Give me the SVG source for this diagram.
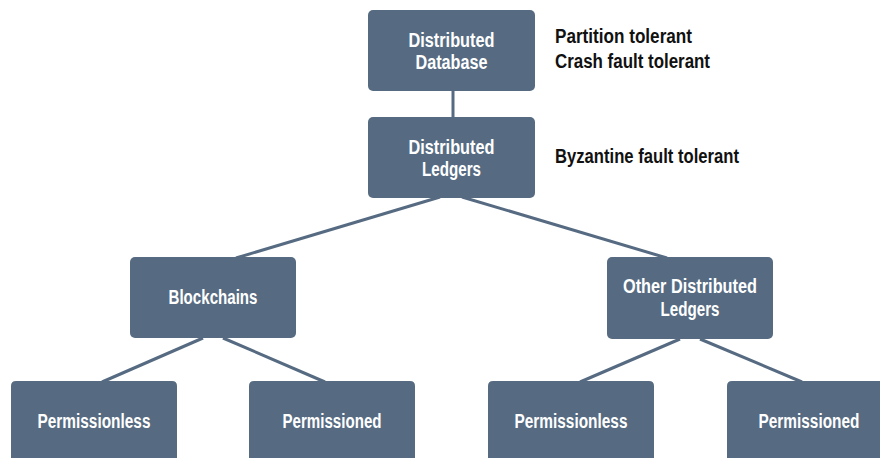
<svg xmlns="http://www.w3.org/2000/svg" width="880" height="458" viewBox="0 0 880 458">
<style>
.box{fill:#566b82;}
.t{font-family:"Liberation Sans",Arial,sans-serif;font-weight:bold;font-size:20px;fill:#ffffff;text-anchor:middle;dominant-baseline:central;}
.n{font-family:"Liberation Sans",Arial,sans-serif;font-weight:bold;font-size:20px;fill:#111111;dominant-baseline:central;}
.c{stroke:#566b82;stroke-width:3;fill:none;}
</style>
<rect width="880" height="458" fill="#ffffff"/>
<g id="connectors">
<line class="c" x1="453" y1="91" x2="453" y2="117"/>
<line class="c" x1="440" y1="197" x2="236" y2="258"/>
<line class="c" x1="462" y1="197" x2="667" y2="258"/>
<line class="c" x1="203" y1="338" x2="102" y2="382"/>
<line class="c" x1="223" y1="338" x2="325" y2="382"/>
<line class="c" x1="680" y1="339" x2="580" y2="382"/>
<line class="c" x1="700" y1="339" x2="802" y2="382"/>
</g>
<g id="db">
<rect class="box" x="368" y="10" width="167" height="81" rx="5"/>
<text class="t" x="451.5" y="40" textLength="86" lengthAdjust="spacingAndGlyphs">Distributed</text>
<text class="t" x="451.5" y="62" textLength="72" lengthAdjust="spacingAndGlyphs">Database</text>
</g>
<g id="dl">
<rect class="box" x="368" y="117" width="167" height="81" rx="5"/>
<text class="t" x="451.5" y="147" textLength="86" lengthAdjust="spacingAndGlyphs">Distributed</text>
<text class="t" x="451.5" y="169" textLength="59" lengthAdjust="spacingAndGlyphs">Ledgers</text>
</g>
<g id="blockchains">
<rect class="box" x="130" y="257" width="166" height="81" rx="5"/>
<text class="t" x="213" y="297" textLength="89" lengthAdjust="spacingAndGlyphs">Blockchains</text>
</g>
<g id="odl">
<rect class="box" x="607" y="257" width="166" height="82" rx="5"/>
<text class="t" x="690" y="286" textLength="134" lengthAdjust="spacingAndGlyphs">Other Distributed</text>
<text class="t" x="690" y="309" textLength="59" lengthAdjust="spacingAndGlyphs">Ledgers</text>
</g>
<g id="b-perml">
<path class="box" d="M11,458 V386 Q11,381 16,381 H172 Q177,381 177,386 V458 Z"/>
<text class="t" x="94" y="421" textLength="113" lengthAdjust="spacingAndGlyphs">Permissionless</text>
</g>
<g id="b-perm">
<path class="box" d="M249,458 V386 Q249,381 254,381 H410 Q415,381 415,386 V458 Z"/>
<text class="t" x="332" y="421" textLength="99" lengthAdjust="spacingAndGlyphs">Permissioned</text>
</g>
<g id="o-perml">
<path class="box" d="M488,458 V386 Q488,381 493,381 H649 Q654,381 654,386 V458 Z"/>
<text class="t" x="571" y="421" textLength="113" lengthAdjust="spacingAndGlyphs">Permissionless</text>
</g>
<g id="o-perm">
<path class="box" d="M727,458 V386 Q727,381 732,381 H880 V458 Z"/>
<text class="t" x="809" y="421" textLength="101" lengthAdjust="spacingAndGlyphs">Permissioned</text>
</g>
<g id="notes">
<text class="n" x="555" y="36" textLength="137" lengthAdjust="spacingAndGlyphs">Partition tolerant</text>
<text class="n" x="555" y="61" textLength="155" lengthAdjust="spacingAndGlyphs">Crash fault tolerant</text>
<text class="n" x="555" y="156" textLength="184" lengthAdjust="spacingAndGlyphs">Byzantine fault tolerant</text>
</g>
</svg>
